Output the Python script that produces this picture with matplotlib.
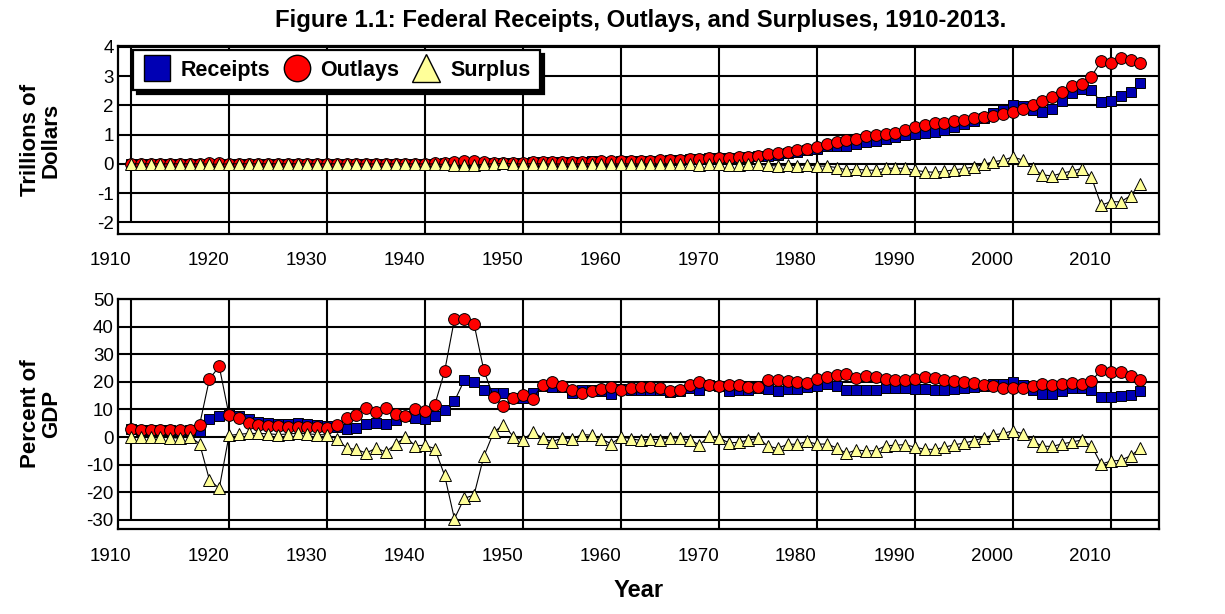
import matplotlib
matplotlib.use("Agg")
import matplotlib.pyplot as plt
import matplotlib.transforms as mtransforms
from matplotlib.lines import Line2D

plt.rcParams['font.family'] = ['Liberation Sans', 'DejaVu Sans']
plt.rcParams['axes.unicode_minus'] = False

years = list(range(1910, 2014))

# Top panel: billions of dollars (converted to trillions when plotted)
receipts_bn = [0.676, 0.702, 0.693, 0.714, 0.725, 0.683, 0.761, 1.101, 3.645, 5.130,
               6.649, 5.571, 4.026, 3.853, 3.871, 3.641, 3.795, 4.013, 3.900, 3.862,
               4.058, 3.116, 1.924, 1.997, 2.955, 3.609, 3.923, 5.387, 6.751, 6.295,
               6.548, 8.712, 14.634, 24.001, 43.747, 45.159, 39.296, 38.514, 41.560, 39.415,
               39.443, 51.616, 66.167, 69.608, 69.701, 65.451, 74.587, 79.990, 79.636, 79.249,
               92.492, 94.388, 99.676, 106.560, 112.613, 116.817, 130.835, 148.822, 152.973, 186.882,
               192.807, 187.139, 207.309, 230.799, 263.224, 279.090, 298.060, 355.559, 399.561, 463.302,
               517.112, 599.272, 617.766, 600.562, 666.438, 734.037, 769.155, 854.288, 909.238, 991.104,
               1031.958, 1054.988, 1091.208, 1154.334, 1258.566, 1351.790, 1453.053, 1579.232, 1721.728, 1827.452,
               2025.191, 1991.082, 1853.136, 1782.314, 1880.114, 2153.611, 2406.869, 2567.985, 2523.991, 2104.989,
               2162.706, 2303.466, 2450.164, 2775.103]
outlays_bn = [0.694, 0.691, 0.690, 0.715, 0.726, 0.746, 0.713, 1.954, 12.677, 18.493,
              6.358, 5.062, 3.289, 3.140, 2.908, 2.924, 2.930, 2.857, 2.961, 3.127,
              3.320, 3.577, 4.659, 4.598, 6.541, 6.412, 8.228, 7.580, 6.840, 9.141,
              9.468, 13.653, 35.137, 78.555, 91.304, 92.712, 55.232, 34.496, 29.764, 38.835,
              42.562, 45.514, 67.686, 76.101, 70.855, 68.444, 70.640, 76.578, 82.405, 92.098,
              92.191, 97.723, 106.821, 111.316, 118.528, 118.228, 134.532, 157.464, 178.134, 183.640,
              195.649, 210.172, 230.681, 245.707, 269.359, 332.332, 371.792, 409.218, 458.746, 504.028,
              590.941, 678.241, 745.743, 808.364, 851.805, 946.344, 990.382, 1004.017, 1064.416, 1143.743,
              1252.993, 1324.226, 1381.529, 1409.386, 1461.753, 1515.742, 1560.484, 1601.116, 1652.458, 1701.842,
              1788.950, 1862.846, 2010.894, 2159.899, 2292.841, 2471.957, 2655.050, 2728.686, 2982.544, 3517.677,
              3457.079, 3603.059, 3537.127, 3455.379]
surplus_bn = [-0.018, 0.011, 0.003, -0.000, -0.001, -0.063, 0.048, -0.853, -9.032, -13.363,
              0.291, 0.509, 0.736, 0.713, 0.963, 0.717, 0.865, 1.155, 0.939, 0.734,
              0.738, -0.462, -2.735, -2.602, -3.586, -2.803, -4.304, -2.193, -0.089, -2.846,
              -2.920, -4.941, -20.503, -54.554, -47.557, -47.553, -15.936, 4.018, 11.796, 0.580,
              -3.119, 6.102, -1.519, -6.493, -1.154, -2.993, 3.947, 3.412, -2.769, -12.849,
              0.301, -3.335, -7.146, -4.756, -5.915, -1.411, -3.698, -8.643, -25.161, 3.242,
              -2.842, -23.033, -23.373, -14.908, -6.135, -53.242, -73.732, -53.659, -59.185, -40.726,
              -73.830, -78.968, -127.977, -207.802, -185.367, -212.308, -221.227, -149.730, -155.178, -152.639,
              -221.036, -269.238, -290.321, -255.051, -203.186, -163.952, -107.431, -21.884, 69.270, 125.610,
              236.241, 128.236, -157.758, -377.585, -412.727, -318.346, -248.181, -160.701, -458.553, -1412.688,
              -1294.373, -1299.593, -1086.963, -680.276]

# Bottom panel: percent of GDP
receipts_pct = [2.8, 2.6, 2.6, 2.5, 2.5, 2.3, 2.6, 2.2, 6.6, 7.5,
                8.5, 7.8, 6.5, 5.6, 5.2, 4.8, 4.8, 5.0, 4.8, 4.5,
                4.1, 3.7, 2.8, 3.4, 4.8, 5.1, 4.9, 6.0, 7.5, 7.0,
                6.7, 7.5, 9.9, 13.0, 20.5, 19.9, 17.2, 16.1, 15.8, 14.2,
                14.1, 15.8, 18.6, 18.3, 18.1, 16.1, 17.0, 17.2, 16.8, 15.7,
                17.3, 17.2, 17.0, 17.2, 17.0, 16.4, 16.7, 17.8, 17.0, 19.0,
                18.4, 16.7, 17.0, 17.0, 17.7, 17.3, 16.6, 17.5, 17.5, 18.0,
                18.5, 19.1, 18.6, 17.0, 16.9, 17.2, 17.0, 17.9, 17.6, 17.8,
                17.4, 17.3, 17.0, 17.0, 17.5, 17.8, 18.2, 18.6, 19.2, 19.2,
                20.0, 18.8, 17.0, 15.7, 15.6, 16.7, 17.6, 17.9, 17.1, 14.6,
                14.6, 15.0, 15.3, 16.7]
outlays_pct = [2.9, 2.7, 2.7, 2.6, 2.7, 2.7, 2.5, 4.5, 21.0, 25.6,
               7.9, 6.8, 5.2, 4.3, 4.0, 3.9, 3.7, 3.6, 3.6, 3.6,
               3.4, 4.3, 6.8, 7.9, 10.6, 9.1, 10.4, 8.5, 7.6, 10.1,
               9.6, 11.7, 23.8, 42.6, 42.7, 41.0, 24.2, 14.4, 11.3, 14.0,
               15.3, 13.9, 19.0, 20.0, 18.4, 16.9, 16.1, 16.5, 17.4, 18.2,
               17.2, 17.8, 18.2, 18.0, 17.9, 16.6, 17.2, 18.8, 19.8, 18.7,
               18.6, 18.8, 18.9, 18.1, 18.1, 20.6, 20.8, 20.2, 20.1, 19.6,
               21.1, 21.6, 22.5, 22.8, 21.5, 22.2, 21.8, 21.0, 20.6, 20.5,
               21.2, 21.7, 21.5, 20.7, 20.3, 20.0, 19.6, 18.9, 18.5, 17.9,
               17.6, 17.6, 18.5, 19.1, 19.0, 19.2, 19.4, 19.1, 20.2, 24.4,
               23.4, 23.4, 22.1, 20.8]
surplus_pct = [-0.1, 0.0, 0.0, -0.1, -0.2, -0.4, 0.1, -2.4, -15.5, -18.6,
               0.6, 1.0, 1.3, 1.3, 1.2, 0.9, 1.1, 1.4, 1.2, 0.9,
               0.8, -0.6, -4.0, -4.5, -5.8, -4.0, -5.4, -2.5, -0.1, -3.1,
               -3.0, -4.2, -13.9, -29.6, -22.2, -21.0, -7.0, 1.7, 4.5, 0.2,
               -1.1, 1.9, -0.4, -1.7, -0.3, -0.7, 0.9, 0.7, -0.6, -2.5,
               0.1, -0.6, -1.2, -0.8, -0.9, -0.2, -0.5, -1.0, -2.8, 0.3,
               -0.3, -2.1, -1.9, -1.1, -0.4, -3.3, -4.1, -2.6, -2.6, -1.6,
               -2.6, -2.5, -3.9, -5.9, -4.7, -5.0, -4.9, -3.1, -3.0, -2.7,
               -3.7, -4.4, -4.5, -3.7, -2.8, -2.2, -1.3, -0.3, 0.8, 1.3,
               2.3, 1.2, -1.5, -3.3, -3.4, -2.5, -1.8, -1.1, -3.1, -9.8,
               -8.7, -8.4, -6.8, -4.1]

decades = [1910, 1920, 1930, 1940, 1950, 1960, 1970, 1980, 1990, 2000, 2010]
decade_labels = [str(d) for d in decades]
series_names = ['Receipts', 'Outlays', 'Surplus']

C_REC = '#0000B4'
C_OUT = '#FF0000'
C_SUR = '#FFFF99'

W, H = 1225, 614
fig = plt.figure(figsize=(W / 100, H / 100), dpi=100)
ax1 = fig.add_axes([118 / W, 1 - 234 / H, 1041 / W, 188 / H])
ax2 = fig.add_axes([118 / W, 1 - 529 / H, 1041 / W, 230 / H])

fig.text(0.523, 0.966, 'Figure 1.1: Federal Receipts, Outlays, and Surpluses, 1910-2013.',
         ha='center', va='center', fontsize=17.2, fontweight='bold')


def draw(ax, rec, out, sur, ylim, yticks, first_line_bottom, xpad):
    ax.set_xlim(1908.67, 2014.9)
    ax.set_ylim(*ylim)
    ax.set_yticks(yticks)
    ax.set_xticks(decades)
    ax.set_xticklabels(decade_labels)
    ax.yaxis.grid(True, color='black', lw=1.5, zorder=1)
    ax.set_axisbelow(True)
    ax.vlines(decades[1:], 0, 1, transform=ax.get_xaxis_transform(), color='black', lw=1.5, zorder=1)
    ax.vlines([decades[0]], first_line_bottom, ylim[1], color='black', lw=1.5, zorder=1)
    for sp in ax.spines.values():
        sp.set_linewidth(1.6)
    ax.tick_params(axis='both', labelsize=13.5, length=0, pad=3)
    ax.tick_params(axis='x', pad=xpad)
    offset = mtransforms.ScaledTranslation(-0.21, 0, fig.dpi_scale_trans)
    for lab in ax.get_xticklabels():
        lab.set_transform(lab.get_transform() + offset)
    ax.plot(years, rec, color='black', lw=0.8, marker='s', ms=7.5, mfc=C_REC, mec='black', mew=0.7, zorder=3)
    ax.plot(years, out, color='black', lw=0.8, marker='o', ms=8.5, mfc=C_OUT, mec='black', mew=0.7, zorder=4)
    ax.plot(years, sur, color='black', lw=0.8, marker='^', ms=8.5, mfc=C_SUR, mec='black', mew=0.7, zorder=5)


draw(ax1, [v / 1000 for v in receipts_bn], [v / 1000 for v in outlays_bn], [v / 1000 for v in surplus_bn],
     (-2.4, 4.03), [-2, -1, 0, 1, 2, 3, 4], -2, 13)
draw(ax2, receipts_pct, outlays_pct, surplus_pct, (-33.3, 50), [-30, -20, -10, 0, 10, 20, 30, 40, 50], -30, 14)

ax1.set_ylabel('Trillions of\nDollars', fontsize=16, fontweight='bold', linespacing=1.0)
ax2.set_ylabel('Percent of\nGDP', fontsize=16, fontweight='bold', linespacing=1.0)
ax1.yaxis.set_label_coords(-0.054, 0.5)
ax2.yaxis.set_label_coords(-0.054, 0.5)
ax2.set_xlabel('Year', fontsize=17, fontweight='bold', labelpad=10)

handles = [
    Line2D([], [], ls='none', marker='s', ms=19, mfc=C_REC, mec='black', mew=1),
    Line2D([], [], ls='none', marker='o', ms=19, mfc=C_OUT, mec='black', mew=1),
    Line2D([], [], ls='none', marker='^', ms=20, mfc=C_SUR, mec='black', mew=1),
]
leg = ax1.legend(handles, series_names, loc='upper left', bbox_to_anchor=(0.0144, 0.979),
                 borderaxespad=0, ncol=3, frameon=True, fancybox=False,
                 shadow={'color': 'black', 'alpha': 1, 'ox': 3, 'oy': -3},
                 prop={'weight': 'bold', 'size': 15.5}, handlelength=1.3, handletextpad=0.45,
                 columnspacing=0.6, borderpad=0.45)
leg.get_frame().set_edgecolor('black')
leg.get_frame().set_linewidth(1.6)
leg.set_zorder(10)

fig.savefig('out.png', dpi=100)
